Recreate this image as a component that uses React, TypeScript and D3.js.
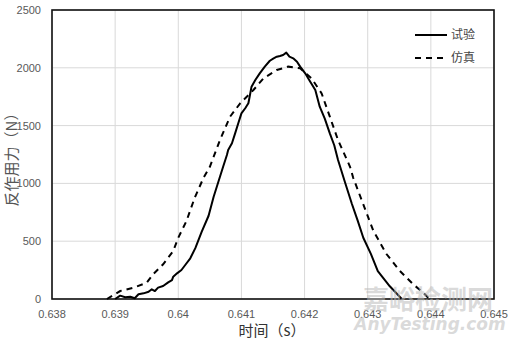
import { useEffect, useRef } from "react";
import * as d3 from "d3";

// 试验 (measured) force curve
const expTime = [0.63900, 0.63908, 0.63916, 0.63924, 0.63931, 0.63937, 0.63945, 0.63953, 0.63958, 0.63963, 0.63968, 0.63976, 0.63984, 0.63990, 0.63992, 0.63998, 0.64005, 0.64011, 0.64019, 0.64027, 0.64037, 0.64048, 0.64056, 0.64061, 0.64066, 0.64071, 0.64077, 0.64079, 0.64085, 0.64090, 0.64095, 0.64100, 0.64106, 0.64111, 0.64113, 0.64116, 0.64122, 0.64129, 0.64137, 0.64145, 0.64151, 0.64156, 0.64161, 0.64166, 0.64171, 0.64176, 0.64182, 0.64188, 0.64193, 0.64201, 0.64209, 0.64217, 0.64224, 0.64232, 0.64240, 0.64247, 0.64253, 0.64264, 0.64275, 0.64284, 0.64293, 0.64305, 0.64316, 0.64335, 0.64354];
const expForce = [0, 29, 15, 20, 6, 41, 49, 63, 84, 69, 98, 112, 144, 164, 193, 222, 251, 294, 352, 440, 580, 720, 885, 971, 1058, 1144, 1246, 1289, 1347, 1433, 1520, 1606, 1650, 1693, 1750, 1837, 1894, 1952, 2010, 2061, 2082, 2096, 2102, 2111, 2131, 2096, 2082, 2053, 2010, 1952, 1880, 1808, 1664, 1560, 1433, 1330, 1202, 1010, 822, 680, 530, 390, 242, 110, 0];

// 仿真 (simulated) force curve
const simTime = [0.63887, 0.63908, 0.63929, 0.63950, 0.63960, 0.63976, 0.63992, 0.6400, 0.64013, 0.64026, 0.64040, 0.64050, 0.64066, 0.64082, 0.64098, 0.64119, 0.64135, 0.64156, 0.64174, 0.64193, 0.64211, 0.64227, 0.64240, 0.64253, 0.64272, 0.64277, 0.64293, 0.64309, 0.64330, 0.64351, 0.64372, 0.64388, 0.64396];
const simForce = [0, 69, 98, 141, 213, 300, 415, 530, 675, 876, 1049, 1144, 1375, 1577, 1693, 1808, 1909, 1981, 2010, 1996, 1909, 1779, 1577, 1375, 1144, 1049, 819, 588, 387, 242, 127, 55, 10];

const xTicks = [0.638, 0.639, 0.64, 0.641, 0.642, 0.643, 0.644, 0.645];
const yTicks = [0, 500, 1000, 1500, 2000, 2500];

const W = 511, H = 342;
const margin = { top: 10, right: 17, bottom: 43, left: 52 };

const App = () => {
  const ref = useRef<SVGSVGElement>(null);

  useEffect(() => {
    const svg = d3.select(ref.current);
    svg.selectAll("*").remove();

    const x = d3.scaleLinear().domain([0.638, 0.645]).range([margin.left, W - margin.right]);
    const y = d3.scaleLinear().domain([0, 2500]).range([H - margin.bottom, margin.top]);

    const g = svg.append("g");

    // grid
    g.selectAll(".vgrid").data(xTicks).enter().append("line")
      .attr("x1", d => x(d)).attr("x2", d => x(d))
      .attr("y1", y(2500)).attr("y2", y(0))
      .attr("stroke", "#d9d9d9").attr("stroke-width", 1);
    g.selectAll(".hgrid").data(yTicks).enter().append("line")
      .attr("x1", x(0.638)).attr("x2", x(0.645))
      .attr("y1", d => y(d)).attr("y2", d => y(d))
      .attr("stroke", "#d9d9d9").attr("stroke-width", 1);

    // frame
    g.append("rect")
      .attr("x", x(0.638)).attr("y", y(2500))
      .attr("width", x(0.645) - x(0.638)).attr("height", y(0) - y(2500))
      .attr("fill", "none").attr("stroke", "#111").attr("stroke-width", 1.6);

    // tick labels
    g.selectAll(".xl").data(xTicks).enter().append("text")
      .attr("x", d => x(d)).attr("y", y(0) + 19)
      .attr("text-anchor", "middle")
      .attr("font-family", "Liberation Sans, Arial, sans-serif").attr("font-size", 11)
      .attr("fill", "#595959")
      .text(d => String(+d.toFixed(3)));
    g.selectAll(".yl").data(yTicks).enter().append("text")
      .attr("x", x(0.638) - 11).attr("y", d => y(d) + 4)
      .attr("text-anchor", "end")
      .attr("font-family", "Liberation Sans, Arial, sans-serif").attr("font-size", 11)
      .attr("fill", "#595959")
      .text(d => String(d));

    // axis titles
    g.append("text")
      .attr("x", 272).attr("y", 336)
      .attr("text-anchor", "middle")
      .attr("font-family", "Noto Sans CJK SC, sans-serif").attr("font-size", 15)
      .attr("fill", "#333")
      .text("时间（s）");
    g.append("text")
      .attr("transform", "translate(17,156) rotate(-90)")
      .attr("text-anchor", "middle")
      .attr("font-family", "Noto Sans CJK SC, sans-serif").attr("font-size", 15)
      .attr("fill", "#555")
      .text("反作用力（N）");

    const line = d3.line<[number, number]>().x(d => x(d[0])).y(d => y(d[1]));

    g.append("path")
      .datum(d3.zip(simTime, simForce) as [number, number][])
      .attr("d", line)
      .attr("fill", "none").attr("stroke", "#000").attr("stroke-width", 2)
      .attr("stroke-dasharray", "6,5");
    g.append("path")
      .datum(d3.zip(expTime, expForce) as [number, number][])
      .attr("d", line)
      .attr("fill", "none").attr("stroke", "#000").attr("stroke-width", 2)
      .attr("stroke-linejoin", "round");

    // legend
    const legend = [
      { label: "试验", dash: null as string | null, y: 35 },
      { label: "仿真", dash: "6,5", y: 58 },
    ];
    legend.forEach(l => {
      g.append("line")
        .attr("x1", 415).attr("x2", 447).attr("y1", l.y).attr("y2", l.y)
        .attr("stroke", "#000").attr("stroke-width", 2)
        .attr("stroke-dasharray", l.dash);
      g.append("text")
        .attr("x", 451).attr("y", l.y + 4)
        .attr("font-family", "Noto Sans CJK SC, sans-serif").attr("font-size", 12)
        .attr("fill", "#444")
        .text(l.label);
    });

    // watermark
    g.append("text")
      .attr("x", 428).attr("y", 309)
      .attr("text-anchor", "middle")
      .attr("font-family", "Noto Sans CJK SC, sans-serif").attr("font-size", 26).attr("font-weight", "bold")
      .attr("fill", "#bbb").attr("fill-opacity", 0.55)
      .text("嘉峪检测网");
    g.append("text")
      .attr("x", 430).attr("y", 330)
      .attr("text-anchor", "middle")
      .attr("font-family", "DejaVu Sans, sans-serif").attr("font-size", 17).attr("font-weight", "bold")
      .attr("font-style", "italic")
      .attr("fill", "#bbb").attr("fill-opacity", 0.55)
      .text("AnyTesting.com");
  }, []);

  return <svg ref={ref} width={W} height={H} style={{ display: "block", position: "absolute", left: 0, top: 0, background: "#fff" }} />;
};

export default App;
